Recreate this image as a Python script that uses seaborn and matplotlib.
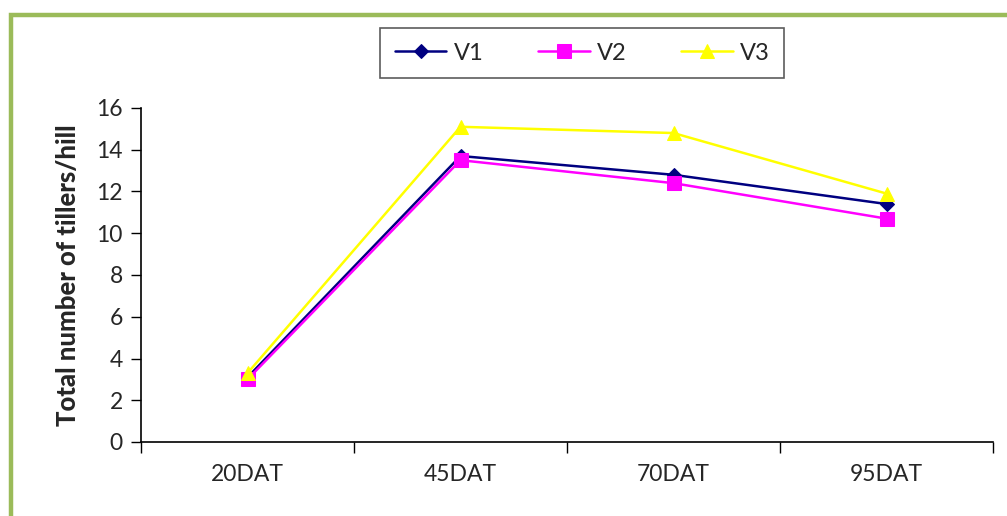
import matplotlib
matplotlib.use("Agg")
import matplotlib.pyplot as plt
import seaborn as sns
import pandas as pd
import numpy as np
from matplotlib.patches import Rectangle

categories = ["20DAT", "45DAT", "70DAT", "95DAT"]
v1 = [3.1, 13.7, 12.8, 11.4]
v2 = [3.0, 13.5, 12.4, 10.7]
v3 = [3.3, 15.1, 14.8, 11.9]
series_names = ["V1", "V2", "V3"]
y_ticks = [0, 2, 4, 6, 8, 10, 12, 14, 16]

sns.set_theme(style="white")
plt.rcParams['font.family'] = ['Lato', 'DejaVu Sans']

rows = []
for name, vals in zip(series_names, [v1, v2, v3]):
    for i, (c, v) in enumerate(zip(categories, vals)):
        rows.append({"pos": i, "cat": c, "value": v, "series": name})
df = pd.DataFrame(rows)

W, H = 1007, 516
fig = plt.figure(figsize=(W / 100, H / 100), dpi=100)
ax = fig.add_axes([141 / W, 1 - 442 / H, (993 - 141) / W, (442 - 108) / H])

palette = {"V1": "#000080", "V2": "#FF00FF", "V3": "#FFFF00"}
markers = {"V1": "D", "V2": "s", "V3": "^"}
sizes = {"V1": 7.5, "V2": 9.5, "V3": 10}
for name in series_names:
    sub = df[df.series == name]
    sns.lineplot(data=sub, x="pos", y="value", ax=ax, color=palette[name],
                 marker=markers[name], markersize=sizes[name],
                 markeredgecolor=palette[name], linewidth=1.8, label=name,
                 legend=False)

tick_color = "#262626"
ax.set_xlim(-0.5, len(categories) - 0.5)
ax.set_ylim(0, 16)
ax.set_yticks(y_ticks)
ax.set_yticklabels([str(t) for t in y_ticks], fontsize=16.5, color=tick_color)
ax.set_xticks(np.arange(-0.5, len(categories), 1.0))
ax.set_xticklabels([])
ax.set_xticks(np.arange(len(categories)), minor=True)
ax.set_xticklabels(categories, minor=True, fontsize=16.5, color=tick_color)
ax.tick_params(axis="x", which="major", direction="out", length=8, width=1, color="black", bottom=True)
ax.tick_params(axis="x", which="minor", length=0, pad=16)
ax.tick_params(axis="y", direction="out", length=7, width=1, color="black", left=True, pad=6)
for s in ["top", "right"]:
    ax.spines[s].set_visible(False)
for s in ["left", "bottom"]:
    ax.spines[s].set_color("black")
    ax.spines[s].set_linewidth(1.2)
ax.set_xlabel("")
ax.set_ylabel("Total number of tillers/hill", fontsize=18.5, fontweight="black", labelpad=12)
ax.grid(False)

handles, labels = ax.get_legend_handles_labels()
leg = fig.legend(handles, labels, loc="center", bbox_to_anchor=(582 / W, 1 - 53 / H),
                 ncol=3, frameon=True, fancybox=False, fontsize=17,
                 handlelength=2.2, columnspacing=2.3, borderpad=0.62, handletextpad=0.3,
                 borderaxespad=0)
for t in leg.get_texts():
    t.set_color(tick_color)
leg.get_frame().set_edgecolor("#333333")
leg.get_frame().set_linewidth(1.2)

fig.patches.append(Rectangle((11 / W, -0.1), 1.2, 1 - 15 / H + 0.1, transform=fig.transFigure,
                             fill=False, edgecolor="#9BBB59", linewidth=3.2, zorder=0))

fig.savefig("out.png", dpi=100)
